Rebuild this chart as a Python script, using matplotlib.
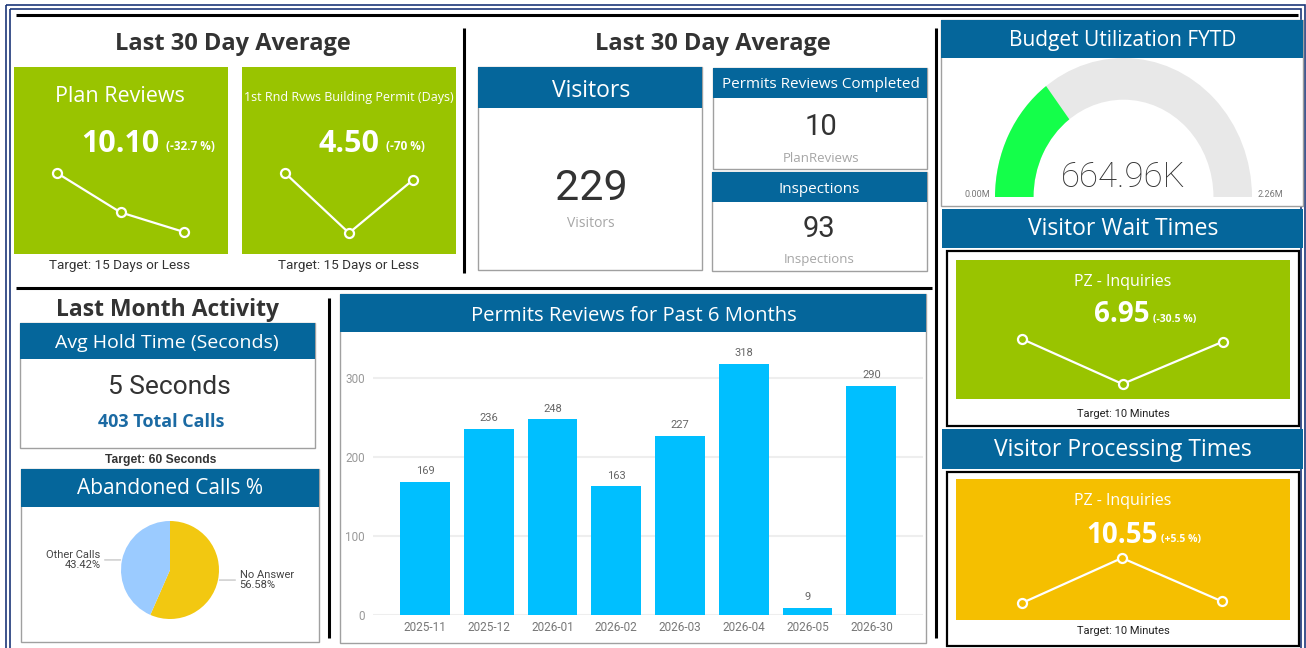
import numpy as np
import matplotlib.pyplot as plt
from matplotlib.patches import Rectangle, Wedge

# values
months = ['2025-11', '2025-12', '2026-01', '2026-02', '2026-03', '2026-04', '2026-05', '2026-30']
permit_reviews = [169, 236, 248, 163, 227, 318, 9, 290]

plan_reviews_trend = [12.5, 10.9, 10.1]
first_round_trend = [5.8, 3.2, 5.5]
wait_trend = [7.9, 6.2, 7.8]
processing_trend = [9.8, 11.2, 9.85]

call_labels = ['No Answer', 'Other Calls']
call_shares = [56.58, 43.42]

budget_used = 664960
budget_total = 2260000

visitors = 229
plan_reviews_done = 10
inspections = 93
hold_seconds = 5
total_calls = 403

W, H = 1306, 648
SEG = ['Open Sans', 'DejaVu Sans']
DIN = ['Roboto', 'DejaVu Sans']
BLUE = '#05669B'
GREEN = '#99C400'
YELLOW = '#F5BF00'

fig = plt.figure(figsize=(W / 100, H / 100), dpi=100)
fig.patch.set_facecolor('white')
bg = fig.add_axes([0, 0, 1, 1])
bg.set_xlim(0, W)
bg.set_ylim(H, 0)
bg.axis('off')


def box(x0, y0, x1, y1, fc, ec='none', lw=0):
    bg.add_patch(Rectangle((x0, y0), x1 - x0, y1 - y0, facecolor=fc, edgecolor=ec, linewidth=lw))


def card(x0, y0, x1, y1, head):
    box(x0, y0, x1, y1, 'white', '#A0A0A0', 1.0)
    box(x0, y0, x1, head, BLUE)


def txt(x, y, s, size, color='white', weight='normal', fam=SEG, ha='center'):
    bg.text(x, y, s, fontsize=size, color=color, fontweight=weight, family=fam,
            ha=ha, va='baseline')


def line(xs, ys, color='black', lw=2.2):
    bg.plot(xs, ys, color=color, lw=lw, solid_capstyle='butt')


def pax(x0, y0, x1, y1):
    return fig.add_axes([x0 / W, 1 - y1 / H, (x1 - x0) / W, (y1 - y0) / H])


def sparkline(x0, y0, x1, y1, vals, face):
    ax = pax(x0, y0, x1, y1)
    ax.plot(range(len(vals)), vals, color='white', lw=1.6, marker='o', ms=6.5,
            mfc=face, mec='white', mew=1.6, clip_on=False)
    ax.set_xlim(0, len(vals) - 1)
    ax.set_ylim(min(vals), max(vals))
    ax.axis('off')


# outer frame and separators
bg.add_patch(Rectangle((6, 5), 1299, 660, fill=False, edgecolor='#1C3779', lw=1.2))
bg.add_patch(Rectangle((10, 9), 1291, 660, fill=False, edgecolor='#1C3779', lw=1.2))
line([16, 1298], [15, 15])
line([16, 932], [288, 288])
line([464, 464], [28, 273])
line([936, 936], [28, 638])
line([329, 329], [298, 638])

# --- Last 30 Day Average (KPI tiles) ---
txt(233, 50, 'Last 30 Day Average', 17, '#333333', 'bold')
box(14, 67, 228, 254, GREEN)
box(242, 67, 456, 254, GREEN)
txt(120, 102, 'Plan Reviews', 15.5)
txt(120, 152, '10.10', 22, weight='bold')
txt(166, 150, '(-32.7 %)', 8.5, weight='bold', ha='left')
sparkline(57, 173, 184, 232, plan_reviews_trend, GREEN)
txt(120, 269, 'Target: 15 Days or Less', 9.7, '#333333', fam=DIN)

txt(349, 101, '1st Rnd Rvws Building Permit (Days)', 9)
txt(349, 152, '4.50', 22, weight='bold')
txt(386, 150, '(-70 %)', 8.5, weight='bold', ha='left')
sparkline(285, 173, 413, 233, first_round_trend, GREEN)
txt(349, 269, 'Target: 15 Days or Less', 9.7, '#333333', fam=DIN)

# --- Last 30 Day Average (cards) ---
txt(713, 50, 'Last 30 Day Average', 17, '#333333', 'bold')
card(478, 67, 702, 270, 108)
txt(591, 97, 'Visitors', 16.5)
txt(591, 200, f'{visitors}', 31, '#333333', fam=DIN)
txt(591, 227, 'Visitors', 10, '#A6A6A6')

card(713, 68, 927, 169, 98)
txt(821, 88, 'Permits Reviews Completed', 11)
txt(821, 135, f'{plan_reviews_done}', 21, '#333333', fam=DIN)
txt(821, 162, 'PlanReviews', 9.5, '#A6A6A6')

card(712, 172, 927, 271, 202)
txt(819, 193, 'Inspections', 11)
txt(819, 237, f'{inspections}', 21, '#333333', fam=DIN)
txt(819, 263, 'Inspections', 9.5, '#A6A6A6')

# --- Budget gauge ---
card(941, 20, 1303, 206, 58)
txt(1123, 46, 'Budget Utilization FYTD', 15)
gx = pax(995, 58, 1252, 197)
gx.add_patch(Wedge((0, 0), 1, 0, 180, width=0.3, facecolor='#E8E8E8', edgecolor='none'))
frac = budget_used / budget_total
gx.add_patch(Wedge((0, 0), 1, 180 - 180 * frac, 180, width=0.3, facecolor='#14FF4A', edgecolor='none'))
gx.set_xlim(-1, 1)
gx.set_ylim(0, 1)
gx.axis('off')
txt(1123, 187, f'{budget_used / 1000:.2f}K', 25, '#333333', 'light', fam=DIN)
txt(977, 197, '0.00M', 6.5, '#777777', fam=DIN)
txt(1270, 197, f'{budget_total / 1e6:.2f}M', 6.5, '#777777', fam=DIN)

# --- Visitor wait / processing ---
box(942, 209, 1303, 248, BLUE)
txt(1123, 235, 'Visitor Wait Times', 16.5)
box(947, 251, 1299, 426, 'white', 'black', 1.6)
box(956, 260, 1290, 399, GREEN)
txt(1123, 286, 'PZ - Inquiries', 11.5)
txt(1122, 322, '6.95', 20, weight='bold')
txt(1153, 322, '(-30.5 %)', 7.5, weight='bold', ha='left')
sparkline(1022, 339, 1223, 384, wait_trend, GREEN)
txt(1123, 417, 'Target: 10 Minutes', 8, '#222222', fam=DIN)

box(942, 429, 1303, 469, BLUE)
txt(1123, 456, 'Visitor Processing Times', 16.5)
box(947, 472, 1299, 646, 'white', 'black', 1.6)
box(956, 479, 1290, 620, YELLOW)
txt(1123, 505, 'PZ - Inquiries', 11.5)
txt(1122, 543, '10.55', 20, weight='bold')
txt(1161, 542, '(+5.5 %)', 7.5, weight='bold', ha='left')
sparkline(1022, 558, 1222, 603, processing_trend, YELLOW)
txt(1123, 634, 'Target: 10 Minutes', 8, '#222222', fam=DIN)

# --- Last Month Activity ---
txt(168, 316, 'Last Month Activity', 16.5, '#333333', 'bold')
card(20, 323, 315, 448, 359)
txt(167, 348, 'Avg Hold Time (Seconds)', 14)
txt(169, 394, f'{hold_seconds} Seconds', 19, '#333333', fam=DIN)
txt(161, 427, f'{total_calls} Total Calls', 13, '#1B6AA3', 'bold')
txt(161, 463, 'Target: 60 Seconds', 8.7, '#333333', 'bold', fam=['Liberation Sans'])

card(21, 469, 319, 642, 507)
txt(170, 494, 'Abandoned Calls %', 15)
px = pax(121, 521, 219, 619)
px.pie(call_shares, colors=['#F2C811', '#9BCBFF'], startangle=90,
       counterclock=False, radius=1)
px.set_xlim(-1, 1)
px.set_ylim(-1, 1)
px.set_aspect('equal')
start = 90
for lab, share in zip(call_labels, call_shares):
    a = np.deg2rad(start - share * 1.8)
    ex, ey = np.cos(a), np.sin(a)
    side = 1 if ex > 0 else -1
    px.annotate(f'{lab}\n{share:.2f}%', xy=(ex, ey), xytext=(1.42 * side, ey),
                ha='left' if side > 0 else 'right', va='center', fontsize=8,
                family=DIN, color='#444444', linespacing=1.1,
                arrowprops=dict(arrowstyle='-', color='#BBBBBB', lw=0.8,
                                shrinkA=1, shrinkB=1))
    start -= share * 3.6

# --- Permits Reviews bar chart ---
card(340, 294, 926, 643, 332)
txt(634, 321, 'Permits Reviews for Past 6 Months', 14.6)
bx = pax(373, 345, 923, 615)
bars = bx.bar(range(len(months)), permit_reviews, width=0.78, color='#00BFFF')
bx.bar_label(bars, padding=4, fontsize=8, color='#666666', family=DIN)
bx.set_xlim(-0.815, 7.81)
bx.set_ylim(0, 342)
bx.set_yticks([0, 100, 200, 300])
bx.set_xticks(range(len(months)))
bx.set_xticklabels(months, fontsize=8.5, color='#777777', family=DIN)
for lab in bx.get_yticklabels():
    lab.set_fontsize(8.5)
    lab.set_color('#999999')
    lab.set_family(DIN)
bx.tick_params(length=0, axis='y', pad=6)
bx.tick_params(length=0, axis='x', pad=4)
bx.grid(axis='y', color='#EEEEEE', lw=1.5)
bx.set_axisbelow(True)
bx.set_facecolor('none')
for s in bx.spines.values():
    s.set_visible(False)

fig.savefig('out.png', dpi=100)
